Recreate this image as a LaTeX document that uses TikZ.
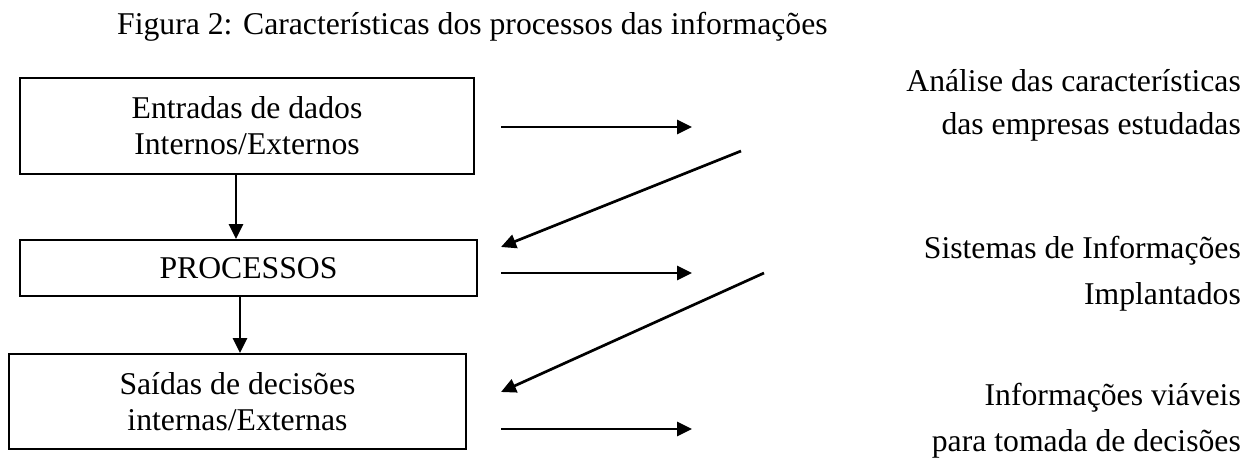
\documentclass[tikz,border=0pt]{standalone}
\usepackage{fontspec}
\setmainfont{Liberation Serif}
\usetikzlibrary{arrows.meta}
\begin{document}
\begin{tikzpicture}[x=1pt,y=-1pt,
  txt/.style={inner sep=0pt, font=\fontsize{31.7}{36}\selectfont},
  box/.style={txt, draw, line width=2pt, align=center},
  lbl/.style={txt, anchor=base east},
  arr/.style={line width=2.7pt, -{Triangle[length=15pt,width=14pt]}}]
\useasboundingbox (0,0) rectangle (1249,468);
\node[txt, anchor=base west] (title) at (117,35) {Figura 2: Características dos processos das informações};
\node[box, minimum width=454pt, minimum height=96pt] (b1) at (247,126) {Entradas de dados\\Internos/Externos};
\node[box, minimum width=457pt, minimum height=56pt] (b2) at (248.5,268) {PROCESSOS};
\node[box, minimum width=457pt, minimum height=95pt] (b3) at (237.5,401.5) {Saídas de decisões\\internas/Externas};
\node[lbl] (r1a) at (1241,92) {Análise das características};
\node[lbl] (r1b) at (1241,134) {das empresas estudadas};
\node[lbl] (r2a) at (1241,258) {Sistemas de Informações};
\node[lbl] (r2b) at (1241,304) {Implantados};
\node[lbl] (r3a) at (1241,405) {Informações viáveis};
\node[lbl] (r3b) at (1241,451) {para tomada de decisões};
\coordinate (v1) at (236,0);
\coordinate (v2) at (240,0);
\draw[arr] (b1.south -| v1) -- (b2.north -| v1);
\draw[arr] (b2.south -| v2) -- (b3.north -| v2);
\coordinate (h1s) at (501,127); \coordinate (h1e) at (692,127);
\coordinate (h2s) at (501,273); \coordinate (h2e) at (692,273);
\coordinate (h3s) at (501,429); \coordinate (h3e) at (692,429);
\coordinate (d1s) at (741,151); \coordinate (d1e) at (501,247);
\coordinate (d2s) at (764,273); \coordinate (d2e) at (501,392);
\draw[arr] (h1s) -- (h1e);
\draw[arr] (h2s) -- (h2e);
\draw[arr] (h3s) -- (h3e);
\draw[arr] (d1s) -- (d1e);
\draw[arr] (d2s) -- (d2e);
\end{tikzpicture}
\end{document}
